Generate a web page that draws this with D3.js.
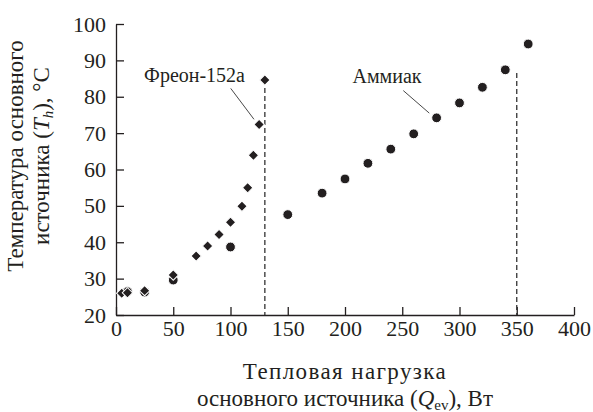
<!DOCTYPE html>
<html>
<head>
<meta charset="utf-8">
<script src="https://cdn.jsdelivr.net/npm/d3@7"></script>
<style>
  html, body { margin: 0; padding: 0; background: #fff; }
</style>
</head>
<body>
<div id="chart"></div>
<script>
// Фреон-152а (diamonds)
const freonQ = [5, 10, 25, 50, 70, 80, 90, 100, 110, 115, 120, 125, 130];
const freonT = [26.0, 26.1, 26.7, 31.0, 36.2, 39.0, 42.1, 45.5, 49.9, 55.0, 63.9, 72.4, 84.6];

// Аммиак (circles)
const ammoniaQ = [10, 25, 50, 100, 150, 180, 200, 220, 240, 260, 280, 300, 320, 340, 360];
const ammoniaT = [26.4, 26.3, 29.6, 38.7, 47.6, 53.5, 57.4, 61.7, 65.6, 69.8, 74.2, 78.3, 82.6, 87.4, 94.5];

// vertical dashed limits
const limitQ = [130, 350];
const limitTop = [84.6, 86.5];

const xTicks = [0, 50, 100, 150, 200, 250, 300, 350, 400];
const yTicks = [20, 30, 40, 50, 60, 70, 80, 90, 100];

const FONT = '"Liberation Serif", "Tinos", "Times New Roman", "DejaVu Serif", serif';
const INK = '#231f20';

const width = 593, height = 412;
const margin = { top: 24, right: 19, bottom: 97, left: 116 };
const innerW = width - margin.left - margin.right;
const innerH = height - margin.top - margin.bottom;

const svg = d3.select('#chart').append('svg').attr('width', width).attr('height', height)
  .attr('font-family', FONT).style('font-family', FONT);
const g = svg.append('g').attr('transform', `translate(${margin.left},${margin.top})`);

const x = d3.scaleLinear().domain([0, 400]).range([0, innerW]);
const y = d3.scaleLinear().domain([20, 100]).range([innerH, 0]);

// axes, ticks pointing inward
const xAxis = d3.axisBottom(x).tickValues(xTicks).tickSizeInner(-8).tickSizeOuter(0).tickPadding(5);
const yAxis = d3.axisLeft(y).tickValues(yTicks).tickSizeInner(-8).tickSizeOuter(0).tickPadding(10);

const gx = g.append('g').attr('transform', `translate(0,${innerH})`).call(xAxis);
const gy = g.append('g').call(yAxis);
[gx, gy].forEach(a => {
  a.attr('font-family', FONT).attr('font-size', 22);
  a.selectAll('.domain').attr('stroke', INK).attr('stroke-width', 1.3);
  a.selectAll('.tick line').attr('stroke', INK).attr('stroke-width', 1.3);
  a.selectAll('.tick text').attr('fill', INK).style('font-size', '22px').style('font-family', FONT);
});

// dashed lines
g.selectAll('.limit').data(limitQ).enter().append('line')
  .attr('class', 'limit')
  .attr('x1', d => x(d)).attr('x2', d => x(d))
  .attr('y1', (d, i) => y(limitTop[i])).attr('y2', innerH)
  .attr('stroke', '#333').attr('stroke-width', 1.3).attr('stroke-dasharray', '5,3');

// points: circles first, diamonds on top
const ammonia = ammoniaQ.map((q, i) => ({ q, t: ammoniaT[i] }));
const freon = freonQ.map((q, i) => ({ q, t: freonT[i] }));

g.selectAll('.amm').data(ammonia).enter().append('circle')
  .attr('class', 'amm')
  .attr('cx', d => x(d.q)).attr('cy', d => y(d.t)).attr('r', 4.9)
  .attr('fill', INK).attr('stroke', '#fff').attr('stroke-width', 1);

const diamond = d3.symbol().type(d3.symbolSquare).size(54);
g.selectAll('.fre').data(freon).enter().append('path')
  .attr('class', 'fre')
  .attr('d', diamond)
  .attr('transform', d => `translate(${x(d.q)},${y(d.t)}) rotate(45)`)
  .attr('fill', INK).attr('stroke', '#fff').attr('stroke-width', 1);

// annotations
const labels = [
  { text: 'Фреон-152а', q: 68.6, t: 84.1, from: [100.2, 82.3], to: [120.5, 73.8] },
  { text: 'Аммиак', q: 236.7, t: 83.9, from: [250.9, 81.7], to: [273.6, 75.5] }
];
labels.forEach(l => {
  g.append('text').attr('x', x(l.q)).attr('y', y(l.t))
    .attr('text-anchor', 'middle').style('font-size', '20px').style('font-family', FONT)
    .attr('fill', INK).text(l.text);
  g.append('line')
    .attr('x1', x(l.from[0])).attr('y1', y(l.from[1]))
    .attr('x2', x(l.to[0])).attr('y2', y(l.to[1]))
    .attr('stroke', '#333').attr('stroke-width', 0.9);
});

// axis titles
const xt = svg.append('text').attr('text-anchor', 'middle').attr('fill', INK)
  .style('font-size', '23px').style('font-family', FONT);
xt.append('tspan').attr('x', margin.left + innerW / 2).attr('y', 379)
  .style('letter-spacing', '1.4px').text('Тепловая нагрузка');
const xl2 = xt.append('tspan').attr('x', margin.left + innerW / 2).attr('y', 406);
xl2.append('tspan').text('основного источника (');
xl2.append('tspan').style('font-style', 'italic').text('Q');
xl2.append('tspan').attr('dy', 4).style('font-size', '15px').text('ev');
xl2.append('tspan').attr('dy', -4).text('), Вт');

const yt = svg.append('text').attr('text-anchor', 'middle').attr('fill', INK)
  .style('font-size', '23px').style('font-family', FONT)
  .attr('transform', 'translate(0,156) rotate(-90)');
yt.append('tspan').attr('x', 0).attr('y', 23).text('Температура основного');
const yl2 = yt.append('tspan').attr('x', 0).attr('y', 49);
yl2.append('tspan').text('источника (');
yl2.append('tspan').style('font-style', 'italic').text('T');
yl2.append('tspan').attr('dy', 4).style('font-style', 'italic').style('font-size', '15px').text('h');
yl2.append('tspan').attr('dy', -4).text('), °C');
</script>
</body>
</html>
